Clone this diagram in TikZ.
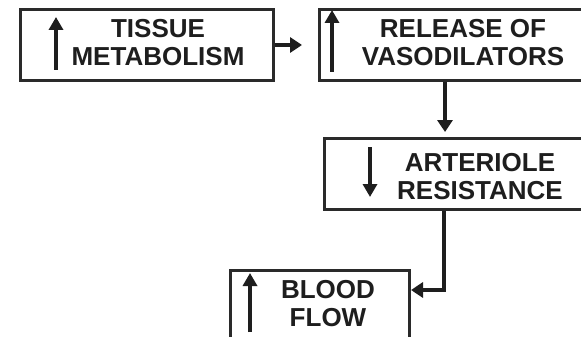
\documentclass[tikz,border=0pt]{standalone}
\usepackage{fontspec}
\setmainfont{Liberation Sans}
\usetikzlibrary{arrows.meta}
\definecolor{inkDark}{HTML}{1E1E1E}
\definecolor{boxLine}{HTML}{2A2A2A}

\begin{document}
\begin{tikzpicture}[
  x=1pt, y=-1pt,
  box/.style={
    draw=boxLine, line width=3pt, fill=white, rectangle,
    anchor=north west, inner sep=0pt, minimum height=71pt},
  txt/.style={
    font=\fontsize{26}{28}\selectfont\bfseries, text=inkDark,
    align=center, inner sep=0pt},
  ar/.style={-{Triangle[width=15pt,length=12pt]}, line width=3.6pt, inkDark},
  ind/.style={-{Triangle[width=14pt,length=13pt]}, line width=3.8pt, inkDark},
]
\useasboundingbox (0,0) rectangle (581,337);
\clip (0,0) rectangle (581,337);

% ---------------- boxes ----------------
\node[box, minimum width=253pt] (tisbox) at (19,8) {};
\node[box, minimum width=300pt] (relbox) at (318,8) {};
\node[box, minimum width=320pt] (artbox) at (323,137) {};
\node[box, minimum width=179pt, minimum height=100pt] (blobox) at (229,269) {};

% ---------------- texts ----------------
\node[txt] (tis) at (158,43)  {TISSUE\\METABOLISM};
\node[txt] (rel) at (463,43)  {RELEASE OF\\VASODILATORS};
\node[txt] (art) at (480,177) {ARTERIOLE\\RESISTANCE};
\node[txt] (blo) at (328,304) {BLOOD\\FLOW};

% ---------------- up / down marks ----------------
\draw[ind] ([xshift=37pt,yshift=-62pt]tisbox.north west)
        -- ([xshift=37pt,yshift=-9pt]tisbox.north west);
\draw[ind] ([xshift=14pt,yshift=-64pt]relbox.north west)
        -- ([xshift=14pt,yshift=-2pt]relbox.north west);
\draw[ind] ([xshift=47pt,yshift=-10pt]artbox.north west)
        -- ([xshift=47pt,yshift=-60pt]artbox.north west);
\draw[ind] ([xshift=21pt,yshift=-63pt]blobox.north west)
        -- ([xshift=21pt,yshift=-4pt]blobox.north west);

% ---------------- arrows ----------------
\draw[ar, shorten >=16pt] (tisbox.east) -- (relbox.west);
\draw[ar, shorten >=5pt] ([xshift=127pt]relbox.south west)
                      -- ([xshift=122pt]artbox.north west);
\draw[ar] ([xshift=121pt]artbox.south west)
       |- ([yshift=-21pt]blobox.north east);

\end{tikzpicture}
\end{document}
